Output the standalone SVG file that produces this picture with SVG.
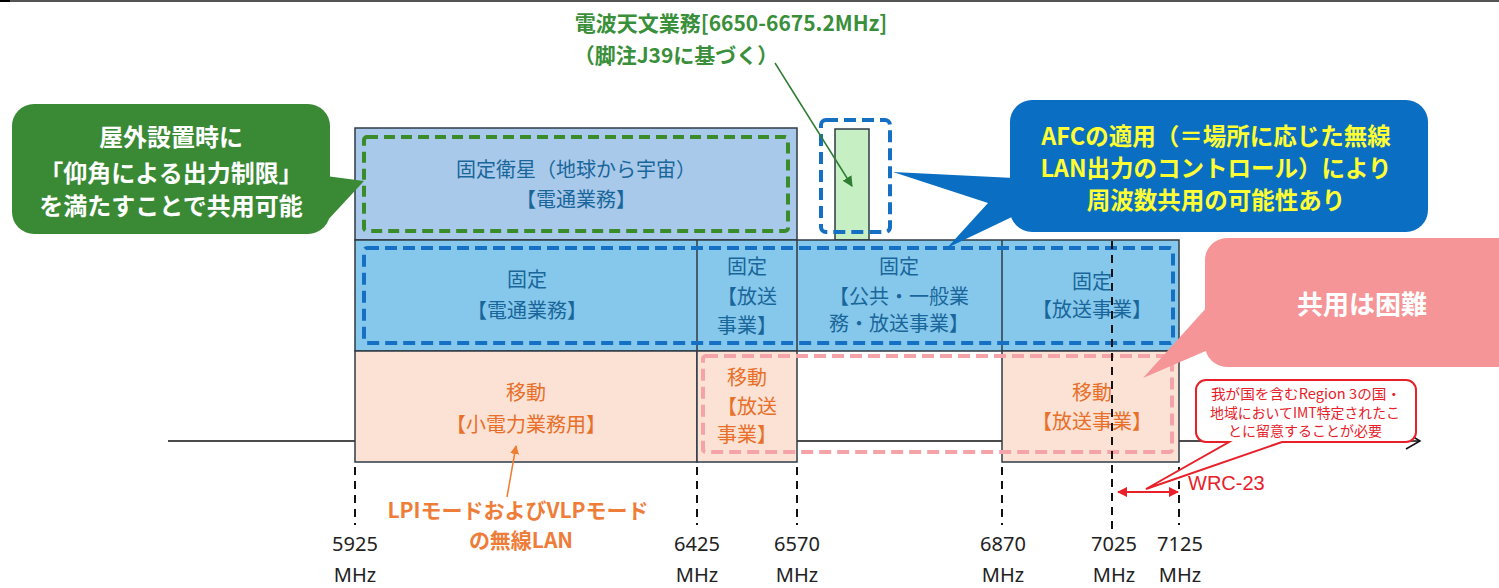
<svg xmlns="http://www.w3.org/2000/svg" width="1499" height="588" viewBox="0 0 1499 588">
<defs>
<style>
.box{stroke:#2f3b45;stroke-width:1.5}
.sat{fill:#a8c9ea}
.fix{fill:#86c8eb}
.mob{fill:#fbe2d4}
.bt{font-family:"Noto Sans CJK JP",sans-serif;font-size:20px;fill:#19669a;text-anchor:middle}
.ot{font-family:"Noto Sans CJK JP",sans-serif;font-size:20px;fill:#e8702a;text-anchor:middle}
.ct{font-family:"Noto Sans CJK JP",sans-serif;font-weight:bold;text-anchor:middle}
.num{font-family:"Noto Sans","Liberation Sans",sans-serif;font-size:20px;fill:#222;text-anchor:middle}
.vd{stroke:#111;stroke-width:2;stroke-dasharray:8 6;fill:none}
.gd{fill:none;stroke:#3a8c2a;stroke-width:4;stroke-dasharray:11 6}
.bd{fill:none;stroke:#1570c4;stroke-width:4;stroke-dasharray:12 6}
.pd{fill:none;stroke:#f4a3a8;stroke-width:4;stroke-dasharray:12 6}
</style>
<marker id="ag" viewBox="0 0 10 10" refX="9" refY="5" markerWidth="7" markerHeight="7" orient="auto"><path d="M0,0 L10,5 L0,10 Z" fill="#2e7d32"/></marker>
<marker id="ao" viewBox="0 0 10 10" refX="9" refY="5" markerWidth="6" markerHeight="6" orient="auto"><path d="M0,0 L10,5 L0,10 Z" fill="#ed7d31"/></marker>
<marker id="ar" viewBox="0 0 10 10" refX="9" refY="5" markerWidth="5" markerHeight="5" orient="auto-start-reverse"><path d="M0,0 L10,5 L0,10 Z" fill="#e8202a"/></marker>
</defs>
<rect x="0" y="0" width="1499" height="588" fill="#ffffff"/>
<rect x="0" y="0" width="1499" height="2" fill="#555"/>
<rect x="0" y="0" width="10" height="2" fill="#000"/>

<g id="axis">
<line x1="168" y1="441" x2="1420" y2="441" stroke="#111" stroke-width="1.5"/>
<path d="M1407,433 L1420,441 L1406,449" fill="none" stroke="#111" stroke-width="1.5"/>
</g>

<g id="fixed-satellite">
<rect class="box sat" x="355" y="128" width="442" height="112"/>
<text class="bt" x="576" y="177">固定衛星（地球から宇宙）</text>
<text class="bt" x="576" y="207">【電通業務】</text>
</g>

<g id="radio-astronomy">
<rect x="835" y="129" width="34" height="111" fill="#c6efc4" stroke="#2f3b45" stroke-width="1.5"/>
</g>

<g id="fixed-row">
<rect class="box fix" x="355" y="240" width="824" height="111"/>
<line class="box" x1="697" y1="240" x2="697" y2="351"/>
<line class="box" x1="797" y1="240" x2="797" y2="351"/>
<line class="box" x1="1002" y1="240" x2="1002" y2="351"/>
</g>
<g id="fixed-telecom">
<text class="bt" x="527" y="287">固定</text>
<text class="bt" x="527" y="318">【電通業務】</text>
</g>
<g id="fixed-broadcast-1">
<text class="bt" x="747" y="274">固定</text>
<text class="bt" x="747" y="304">【放送</text>
<text class="bt" x="747" y="333">事業】</text>
</g>
<g id="fixed-public">
<text class="bt" x="899" y="274">固定</text>
<text class="bt" x="899" y="304">【公共・一般業</text>
<text class="bt" x="899" y="331">務・放送事業】</text>
</g>
<g id="fixed-broadcast-2">
<text class="bt" x="1092" y="289">固定</text>
<text class="bt" x="1092" y="317">【放送事業】</text>
</g>

<g id="mobile-lowpower">
<rect class="box mob" x="355" y="351" width="342" height="111"/>
<text class="ot" x="526" y="400">移動</text>
<text class="ot" x="526" y="432">【小電力業務用】</text>
</g>
<g id="mobile-broadcast-1">
<rect class="box mob" x="697" y="351" width="100" height="111"/>
<text class="ot" x="747" y="385">移動</text>
<text class="ot" x="747" y="414">【放送</text>
<text class="ot" x="747" y="442">事業】</text>
</g>
<g id="mobile-broadcast-2">
<rect class="box mob" x="1002" y="351" width="177" height="111"/>
<text class="ot" x="1092" y="400">移動</text>
<text class="ot" x="1092" y="429">【放送事業】</text>
</g>

<g id="highlights">
<rect class="gd" x="364" y="137" width="424" height="94" rx="3"/>
<rect class="bd" x="364" y="248" width="809" height="95" rx="3"/>
<rect class="bd" x="821" y="120" width="69" height="112" rx="5"/>
<rect class="pd" x="703" y="356" width="469" height="96" rx="3"/>
</g>

<g id="gridlines">
<line class="vd" x1="355" y1="467" x2="355" y2="525"/>
<line class="vd" x1="697" y1="467" x2="697" y2="525"/>
<line class="vd" x1="797" y1="467" x2="797" y2="525"/>
<line class="vd" x1="1002" y1="467" x2="1002" y2="525"/>
<line class="vd" x1="1112" y1="241" x2="1112" y2="531"/>
<line class="vd" x1="1179" y1="467" x2="1179" y2="525"/>
</g>

<g id="labels">
<text class="num" x="355" y="551">5925</text><text class="num" x="355" y="582">MHz</text>
<text class="num" x="697" y="551">6425</text><text class="num" x="697" y="582">MHz</text>
<text class="num" x="797" y="551">6570</text><text class="num" x="797" y="582">MHz</text>
<text class="num" x="1003" y="551">6870</text><text class="num" x="1003" y="582">MHz</text>
<text class="num" x="1114" y="551">7025</text><text class="num" x="1114" y="582">MHz</text>
<text class="num" x="1180" y="551">7125</text><text class="num" x="1180" y="582">MHz</text>
</g>

<g id="radio-astronomy-label">
<text class="ct" x="731" y="31" font-size="21" fill="#3a8f3a">電波天文業務[6650-6675.2MHz]</text>
<text class="ct" x="676" y="63" font-size="21" fill="#3a8f3a">（脚注J39に基づく）</text>
</g>

<g id="wlan-label">
<text class="ct" x="518" y="518" font-size="21" fill="#ef7d3a">LPIモードおよびVLPモード</text>
<text class="ct" x="521" y="548" font-size="21" fill="#ef7d3a">の無線LAN</text>
</g>

<g id="callout-outdoor">
<rect x="12" y="104" width="318" height="130" rx="22" fill="#3a8a35"/>
<polygon points="326,176 364,181 326,222" fill="#3a8a35"/>
<text class="ct" x="171" y="146" font-size="24" fill="#ffffff">屋外設置時に</text>
<text class="ct" x="171" y="182" font-size="24" fill="#ffffff">「仰角による出力制限」</text>
<text class="ct" x="171" y="215" font-size="24" fill="#ffffff">を満たすことで共用可能</text>
</g>

<g id="callout-afc">
<rect x="1010" y="100" width="418" height="132" rx="22" fill="#0a6fc2"/>
<polygon points="1014,178 893,172 988,203 947,248 1014,216" fill="#0a6fc2"/>
<text class="ct" x="1216" y="145" font-size="23.5" fill="#ffff33">AFCの適用（＝場所に応じた無線</text>
<text class="ct" x="1216" y="177" font-size="23.5" fill="#ffff33">LAN出力のコントロール）により</text>
<text class="ct" x="1216" y="209" font-size="23.5" fill="#ffff33">周波数共用の可能性あり</text>
</g>

<g id="callout-difficult">
<rect x="1205" y="238" width="330" height="129" rx="22" fill="#f59597"/>
<polygon points="1208,306 1143,378 1208,350" fill="#f59597"/>
<text class="ct" x="1362" y="314" font-size="26" fill="#ffffff">共用は困難</text>
</g>

<g id="callout-imt">
<path d="M1206,380 H1406 A10,10 0 0 1 1416,390 V432 A10,10 0 0 1 1406,442 H1282 L1146,489 L1229,442 H1206 A10,10 0 0 1 1196,432 V390 A10,10 0 0 1 1206,380 Z" fill="#ffffff" stroke="#e8202a" stroke-width="2"/>
<text x="1306" y="399" font-family="Noto Sans CJK JP,sans-serif" font-size="14" fill="#e8202a" text-anchor="middle" textLength="190" lengthAdjust="spacingAndGlyphs">我が国を含むRegion 3の国・</text>
<text x="1305" y="418" font-family="Noto Sans CJK JP,sans-serif" font-size="14" fill="#e8202a" text-anchor="middle" textLength="190" lengthAdjust="spacingAndGlyphs">地域においてIMT特定されたこ</text>
<text x="1305" y="436" font-family="Noto Sans CJK JP,sans-serif" font-size="14" fill="#e8202a" text-anchor="middle">とに留意することが必要</text>
</g>

<g id="connectors">
<line x1="775" y1="63" x2="852" y2="186" stroke="#2e7d32" stroke-width="1.5" marker-end="url(#ag)"/>
<line x1="507" y1="497" x2="516" y2="446" stroke="#ed7d31" stroke-width="1.5" marker-end="url(#ao)"/>
<line x1="1118" y1="492" x2="1178" y2="492" stroke="#e8202a" stroke-width="2" marker-start="url(#ar)" marker-end="url(#ar)"/>
</g>

<g id="wrc-label">
<text x="1188" y="490" font-family="Liberation Sans,Arial,sans-serif" font-size="20" fill="#e8202a">WRC-23</text>
</g>
</svg>
